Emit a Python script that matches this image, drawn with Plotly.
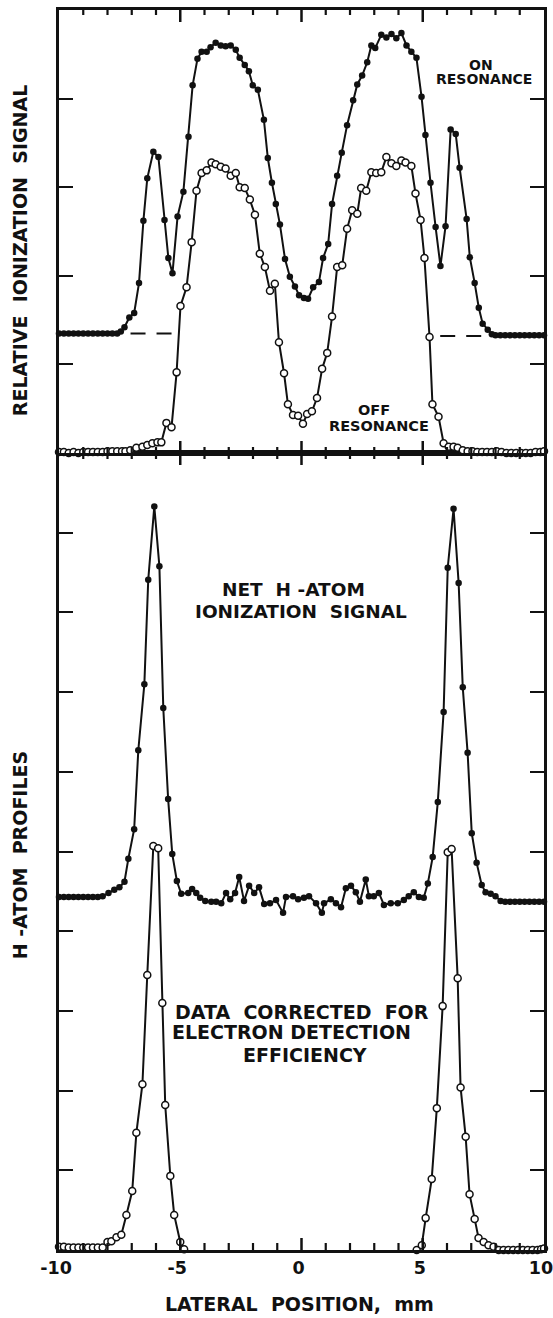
import plotly.graph_objects as go

# ---------------- data ----------------
# Top panel: relative ionization signal
ON_X = [-10.0, -9.8, -9.6, -9.4, -9.2, -9.0, -8.8, -8.6, -8.4, -8.2, -8.0, -7.8, -7.6, -7.45,
        -7.3, -7.1, -6.9, -6.7, -6.52, -6.36, -6.11, -5.9, -5.65, -5.49, -5.32, -5.11, -4.87,
        -4.66, -4.49, -4.29, -4.12, -3.91, -3.75, -3.54, -3.33, -3.13, -2.92, -2.71, -2.55,
        -2.34, -2.17, -2.01, -1.8, -1.55, -1.39, -1.22, -1.06, -0.89, -0.68, -0.48, -0.27,
        -0.1, 0.1, 0.27, 0.48, 0.72, 0.89, 1.1, 1.26, 1.47, 1.66, 1.88, 2.13, 2.3, 2.5, 2.71,
        2.88, 3.04, 3.29, 3.5, 3.71, 3.91, 4.12, 4.33, 4.53, 4.74, 4.95, 5.11, 5.32, 5.53,
        5.73, 5.94, 6.15, 6.36, 6.52, 6.81, 6.94, 7.14, 7.31, 7.47, 7.68, 7.85, 8.0, 8.2,
        8.4, 8.6, 8.8, 9.0, 9.2, 9.4, 9.6, 9.8, 10.0]
ON_Y = [1.35, 1.35, 1.35, 1.35, 1.35, 1.35, 1.35, 1.35, 1.35, 1.35, 1.35, 1.35, 1.35, 1.37,
        1.42, 1.53, 1.58, 1.92, 2.62, 3.10, 3.40, 3.34, 2.63, 2.20, 2.03, 2.67, 2.95,
        3.57, 4.15, 4.45, 4.53, 4.53, 4.58, 4.63, 4.60, 4.59, 4.60, 4.55, 4.46,
        4.38, 4.31, 4.15, 4.10, 3.76, 3.33, 3.05, 2.81, 2.58, 2.19, 1.99, 1.88,
        1.78, 1.75, 1.74, 1.87, 1.93, 2.20, 2.36, 2.81, 3.13, 3.39, 3.70, 3.98, 4.16, 4.26, 4.41,
        4.60, 4.57, 4.72, 4.69, 4.73, 4.68, 4.74, 4.60, 4.53, 4.46, 4.02, 3.59, 3.05, 2.55,
        2.11, 2.56, 3.65, 3.60, 3.22, 2.64, 2.21, 1.92, 1.64, 1.46, 1.39, 1.34, 1.33, 1.33,
        1.33, 1.33, 1.33, 1.33, 1.33, 1.33, 1.33, 1.33, 1.33]

OFF_X = [-10.0, -9.8, -9.6, -9.4, -9.2, -9.0, -8.8, -8.6, -8.4, -8.2, -8.0, -7.8, -7.6, -7.4,
         -7.26, -7.06, -6.81, -6.56, -6.36, -6.15, -5.94, -5.78, -5.57, -5.36, -5.15, -4.99,
         -4.74, -4.53, -4.33, -4.12, -3.91, -3.71, -3.54, -3.33, -3.13, -2.92, -2.71, -2.55,
         -2.34, -2.13, -1.92, -1.72, -1.51, -1.30, -1.10, -0.93, -0.72, -0.56, -0.35, -0.14,
         0.06, 0.23, 0.43, 0.64, 0.85, 1.06, 1.26, 1.47, 1.68, 1.88, 2.09, 2.30, 2.46, 2.67,
         2.88, 3.08, 3.29, 3.50, 3.71, 3.91, 4.12, 4.29, 4.53, 4.70, 4.91, 5.07, 5.28, 5.40,
         5.65, 5.86, 6.07, 6.27, 6.44, 6.65, 6.85, 7.05, 7.25, 7.45, 7.65, 7.85, 8.05, 8.25,
         8.45, 8.65, 8.85, 9.05, 9.25, 9.45, 9.65, 9.85, 10.0]
OFF_Y = [0.01, 0.01, 0.0, 0.01, 0.0, 0.01, 0.01, 0.01, 0.01, 0.01, 0.02, 0.02, 0.02, 0.02,
         0.02, 0.03, 0.06, 0.07, 0.09, 0.11, 0.12, 0.12, 0.34, 0.29, 0.91, 1.66,
         1.87, 2.38, 2.96, 3.16, 3.19, 3.28, 3.26, 3.23, 3.21, 3.13, 3.16, 3.00,
         2.99, 2.86, 2.69, 2.25, 2.10, 1.83, 1.91, 1.25, 0.90, 0.55, 0.43, 0.42,
         0.33, 0.44, 0.47, 0.62, 0.95, 1.13, 1.54, 2.10, 2.12, 2.53, 2.74, 2.70, 2.99, 2.96,
         3.17, 3.16, 3.17, 3.34, 3.27, 3.24, 3.30, 3.28, 3.24, 2.93, 2.63, 2.20, 1.31, 0.55,
         0.41, 0.11, 0.07, 0.07, 0.06, 0.03, 0.02, 0.02, 0.01, 0.01, 0.01, 0.01, 0.02, 0.01,
         0.0, 0.0, 0.0, 0.0, 0.0, 0.0, 0.01, 0.01, 0.02]

# dashed baseline continuation under the ON-resonance side peaks
BASE_L_X = [-7.05, -5.3]
BASE_L_Y = [1.35, 1.35]
BASE_R_X = [5.72, 7.45]
BASE_R_Y = [1.32, 1.32]

# Bottom panel: H-atom profiles
NET_X = [-10.0, -9.8, -9.6, -9.4, -9.2, -9.0, -8.8, -8.6, -8.4, -8.2, -7.96, -7.72, -7.51,
         -7.30, -7.14, -6.90, -6.73, -6.48, -6.32, -6.07, -5.86, -5.70, -5.50, -5.33, -5.14,
         -4.96, -4.67, -4.51, -4.34, -4.18, -3.97, -3.72, -3.52, -3.31, -3.11, -2.94, -2.74,
         -2.57, -2.37, -2.16, -1.95, -1.75, -1.54, -1.30, -1.05, -0.76, -0.64, -0.35, -0.14,
         0.10, 0.31, 0.60, 0.84, 0.93, 1.21, 1.42, 1.63, 1.83, 2.04, 2.24, 2.41, 2.65, 2.78,
         2.98, 3.19, 3.40, 3.68, 3.97, 4.22, 4.42, 4.63, 4.84, 5.04, 5.21, 5.41, 5.62, 5.86,
         6.03, 6.27, 6.48, 6.65, 6.85, 7.02, 7.22, 7.43, 7.59, 7.80, 8.00, 8.21, 8.4, 8.6,
         8.8, 9.0, 9.2, 9.4, 9.6, 9.8, 10.0]
NET_Y = [4.43, 4.43, 4.43, 4.43, 4.43, 4.43, 4.43, 4.43, 4.43, 4.44, 4.48, 4.52, 4.55,
         4.62, 4.91, 5.28, 6.27, 7.10, 8.41, 9.33, 8.58, 6.80, 5.66, 4.97, 4.63,
         4.47, 4.48, 4.53, 4.48, 4.42, 4.38, 4.37, 4.37, 4.35, 4.48, 4.40, 4.48,
         4.68, 4.38, 4.57, 4.48, 4.55, 4.34, 4.35, 4.39, 4.23, 4.43, 4.44, 4.40,
         4.42, 4.44, 4.35, 4.23, 4.35, 4.40, 4.35, 4.30, 4.54, 4.57, 4.49, 4.37, 4.65, 4.44,
         4.44, 4.48, 4.33, 4.35, 4.35, 4.39, 4.44, 4.49, 4.43, 4.42, 4.60, 4.93, 5.62, 6.75,
         8.56, 9.30, 8.37, 7.06, 6.24, 5.23, 4.86, 4.58, 4.49, 4.47, 4.44, 4.38, 4.37, 4.37,
         4.37, 4.37, 4.37, 4.37, 4.37, 4.37, 4.37]

CORR_X = [-10.0, -9.8, -9.6, -9.4, -9.2, -9.0, -8.8, -8.6, -8.4, -8.2, -8.0, -7.84, -7.63,
          -7.43, -7.22, -6.98, -6.81, -6.56, -6.36, -6.11, -5.91, -5.74, -5.62, -5.41, -5.25,
          -5.00, -4.84, None,
          4.75, 4.96, 5.12, 5.37, 5.58, 5.82, 6.03, 6.19, 6.44, 6.56, 6.77, 6.93, 7.14, 7.30,
          7.51, 7.71, 7.92, 8.13, 8.33, 8.53, 8.73, 8.93, 9.13, 9.33, 9.53, 9.73, 9.88, 10.0]
CORR_Y = [0.04, 0.04, 0.03, 0.03, 0.03, 0.03, 0.03, 0.03, 0.03, 0.03, 0.10, 0.11, 0.16,
          0.19, 0.44, 0.74, 1.47, 2.08, 3.45, 5.07, 5.04, 3.10, 1.82, 0.93, 0.44,
          0.10, 0.01, None,
          0.0, 0.06, 0.40, 0.89, 1.78, 3.06, 4.99, 5.03, 3.41, 2.04, 1.42, 0.70, 0.39, 0.15,
          0.10, 0.06, 0.04, 0.0, 0.0, 0.0, 0.0, 0.0, 0.0, 0.0, 0.0, 0.0, 0.01, 0.02]

X_TICKS = [-10, -5, 0, 5, 10]
X_TICK_TEXT = ["-10", "-5", "0", "5", "10"]
X_MAJOR_MARKS = [-5, 0, 5]
X_MINOR_TICKS = [-9, -8, -7, -6, -4, -3, -2, -1, 1, 2, 3, 4, 6, 7, 8, 9]
TOP_Y_TICKS = [1, 2, 3, 4]
BOT_Y_TICKS = [1, 2, 3, 4, 5, 6, 7, 8, 9]

# ---------------- figure ----------------
FONT = "DejaVu Sans"
BLACK = "#111111"

fig = go.Figure()

filled = dict(symbol="circle", size=6.5, color=BLACK)
hollow = dict(symbol="circle", size=7, color="white", line=dict(color=BLACK, width=1.5))

fig.add_trace(go.Scatter(x=BASE_L_X, y=BASE_L_Y, mode="lines", xaxis="x2", yaxis="y2",
                         line=dict(color=BLACK, width=2, dash="15px,11px"), cliponaxis=False))
fig.add_trace(go.Scatter(x=BASE_R_X, y=BASE_R_Y, mode="lines", xaxis="x2", yaxis="y2",
                         line=dict(color=BLACK, width=2, dash="15px,11px"), cliponaxis=False))
fig.add_trace(go.Scatter(x=OFF_X, y=OFF_Y, mode="lines+markers", xaxis="x2", yaxis="y2",
                         line=dict(color=BLACK, width=2), marker=hollow, cliponaxis=False))
fig.add_trace(go.Scatter(x=ON_X, y=ON_Y, mode="lines+markers", xaxis="x2", yaxis="y2",
                         line=dict(color=BLACK, width=2), marker=filled, cliponaxis=False))
fig.add_trace(go.Scatter(x=NET_X, y=NET_Y, mode="lines+markers", xaxis="x", yaxis="y",
                         line=dict(color=BLACK, width=2), marker=filled, cliponaxis=False))
fig.add_trace(go.Scatter(x=CORR_X, y=CORR_Y, mode="lines+markers", xaxis="x", yaxis="y",
                         line=dict(color=BLACK, width=2), marker=hollow, cliponaxis=False,
                         connectgaps=False))

SPLIT = (1250 - 453) / 1240.0

xmain = dict(range=[-10, 10], showgrid=False, zeroline=False, showline=True,
             linecolor=BLACK, linewidth=2.5, mirror=True, ticks="",
             tickmode="array", tickvals=X_TICKS, automargin=False)
ycommon = dict(showgrid=False, zeroline=False, showline=True, linecolor=BLACK,
               linewidth=2.5, mirror="ticks", ticks="inside", ticklen=14, tickwidth=2,
               tickcolor=BLACK, showticklabels=False, tickmode="array", automargin=False)

fig.update_layout(
    width=553, height=1318,
    margin=dict(l=59, r=9, t=10, b=68, autoexpand=False),
    paper_bgcolor="white", plot_bgcolor="white",
    showlegend=False,
    font=dict(family=FONT, color=BLACK),
    xaxis=dict(**xmain, anchor="y", domain=[0, 1], ticktext=X_TICK_TEXT,
               showticklabels=True, ticklabeloverflow="allow", ticklabelshift=-3,
               tickfont=dict(family=FONT, size=17.5, color=BLACK, weight="bold")),
    xaxis2=dict(**xmain, anchor="y2", domain=[0, 1], matches="x", showticklabels=False),
    yaxis=dict(**ycommon, domain=[0, SPLIT], range=[0, 10], tickvals=BOT_Y_TICKS),
    yaxis2=dict(**ycommon, domain=[SPLIT, 1], range=[0, 5], tickvals=TOP_Y_TICKS),
)

# Tick marks on the horizontal frame edges, placed on the x scale at the tick values
# (edge position in paper fraction, pixel extent below / above the edge)
EDGES = [
    (0.0, (0, 12), (0, 7)),      # bottom axis: marks point up
    (SPLIT, (-12, 12), (-6, 6)),  # panel divider: marks cross the line
    (1.0, (-12, 0), (-5, 0)),     # top edge: marks point down
]
for pos, major_ext, minor_ext in EDGES:
    for vals, ext, w in ((X_MAJOR_MARKS, major_ext, 2.5), (X_MINOR_TICKS, minor_ext, 2.2)):
        for v in vals:
            fig.add_shape(type="line", xref="x", yref="paper", x0=v, x1=v,
                          ysizemode="pixel", yanchor=pos, y0=ext[0], y1=ext[1],
                          line=dict(color=BLACK, width=w), layer="above")

def label(text, x, y, xref, yref, size, angle=0):
    fig.add_annotation(text=text, x=x, y=y, xref=xref, yref=yref, showarrow=False,
                       xanchor="center", yanchor="middle", textangle=angle,
                       font=dict(family=FONT, size=size, color=BLACK, weight="bold"))

# in-plot labels
label("ON", 7.40, 4.38, "x2", "y2", 14)
label("RESONANCE", 7.53, 4.22, "x2", "y2", 14)
label("OFF", 2.99, 0.48, "x2", "y2", 14.5)
label("RESONANCE", 3.20, 0.30, "x2", "y2", 14.5)
label("NET  H -ATOM", -0.35, 8.29, "x", "y", 18.5)
label("IONIZATION  SIGNAL", -0.02, 8.01, "x", "y", 18.5)
label("DATA  CORRECTED  FOR", 0.02, 2.99, "x", "y", 19)
label("ELECTRON DETECTION", -0.40, 2.73, "x", "y", 19)
label("EFFICIENCY", 0.14, 2.45, "x", "y", 19)

# axis titles
label("RELATIVE  IONIZATION  SIGNAL", -0.08, (1250 - 251) / 1240.0, "paper", "paper", 19, -90)
label("H -ATOM  PROFILES", -0.08, (1250 - 855) / 1240.0, "paper", "paper", 19, -90)
label("LATERAL  POSITION,  mm", (299 - 59) / 485.0, (1250 - 1304) / 1240.0, "paper", "paper", 19)

fig.write_html("out.html")
